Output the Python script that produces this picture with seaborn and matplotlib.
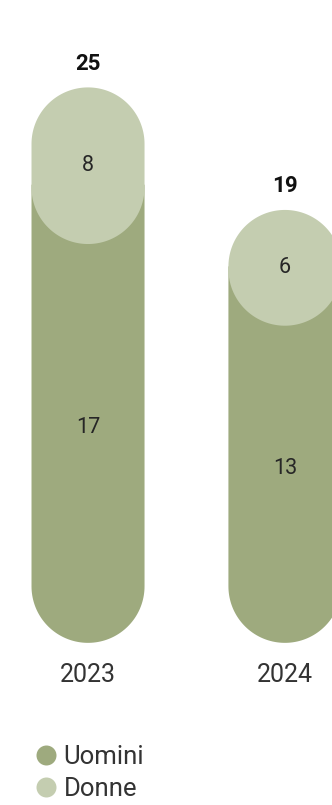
import numpy as np
import matplotlib
matplotlib.use("Agg")
import matplotlib.pyplot as plt
import seaborn as sns
import pandas as pd
from matplotlib.patches import Polygon
from matplotlib.lines import Line2D

# ---- data ----
years = ["2023", "2024"]
uomini = [17, 13]
donne = [8, 6]
series_names = ["Uomini", "Donne"]
series_colors = ["#9EAA7E", "#C4CDB0"]

totals = [u + d for u, d in zip(uomini, donne)]

sns.set_theme(style="white")
plt.rcParams['font.family'] = ['Roboto', 'DejaVu Sans']

W, H = 332, 805
fig = plt.figure(figsize=(W / 100, H / 100), dpi=100)
ax = fig.add_axes([0, 0, 1, 1])

BAR_W = 0.574
df = pd.DataFrame({"year": years, "Uomini": uomini, "Totale": totals})
sns.barplot(data=df, x="year", y="Totale", color=series_colors[1], ax=ax,
            width=BAR_W, saturation=1)
sns.barplot(data=df, x="year", y="Uomini", color=series_colors[0], ax=ax,
            width=BAR_W, saturation=1)

XLIM = (-0.447, 1.239)
YLIM = (-10.14, 29.28)
ax.set_xlim(*XLIM)
ax.set_ylim(*YLIM)
ax.set_axis_off()

# pixel -> data ratios for round caps
xu_per_px = (XLIM[1] - XLIM[0]) / W
yu_per_px = (YLIM[1] - YLIM[0]) / H
ASP = yu_per_px / xu_per_px

BOTTOM_EXT = 2.2   # round-bottom extension below zero (value units)
GAP = 0.33         # Donne pill starts slightly above the Uomini value


def pill(x0, w, yb, yt, round_top=True, round_bot=True, n=80):
    rx = w / 2
    ry = rx * ASP
    xc = x0 + rx
    t = np.linspace(0, np.pi, n)
    if round_top:
        top = np.column_stack([xc + rx * np.cos(t), (yt - ry) + ry * np.sin(t)])
    else:
        top = np.array([[xc + rx, yt], [xc - rx, yt]])
    if round_bot:
        bot = np.column_stack([xc - rx * np.cos(t), (yb + ry) - ry * np.sin(t)])
    else:
        bot = np.array([[xc - rx, yb], [xc + rx, yb]])
    return np.vstack([top, bot])


patches = list(ax.patches)
tot_patches = patches[:2]
uom_patches = patches[2:4]
for p in patches:
    p.set_visible(False)

TXT = "#262626"
for i, (pt, pu) in enumerate(zip(tot_patches, uom_patches)):
    x0, w = pu.get_x(), pu.get_width()
    u = pu.get_height()
    tval = pt.get_height()
    ry = (w / 2) * ASP
    # Uomini: rounded bottom, flat top hidden under Donne
    ax.add_patch(Polygon(pill(x0, w, -BOTTOM_EXT, u + GAP + ry * 1.05,
                              round_top=False), closed=True,
                         facecolor=series_colors[0], edgecolor="none", zorder=2))
    # Donne: full pill
    ax.add_patch(Polygon(pill(x0, w, u + GAP, tval), closed=True,
                         facecolor=series_colors[1], edgecolor="none", zorder=3))
    xc = x0 + w / 2
    # labels
    ax.text(xc, u / 2 - 0.15, f"{uomini[i]}", ha="center", va="center",
            fontsize=15.5, fontweight="normal", color=TXT, zorder=5)
    ax.text(xc, (u + GAP + tval) / 2, f"{donne[i]}", ha="center", va="center",
            fontsize=15.5, fontweight="normal", color=TXT, zorder=5)
    ax.annotate(f"{totals[i]}", (xc, tval), xytext=(0, 17),
                textcoords="offset points", ha="center", va="center",
                fontsize=16, fontweight="bold", color="#111111", zorder=5)
    ax.annotate(years[i], (xc, -BOTTOM_EXT), xytext=(0, -23.5),
                textcoords="offset points", ha="center", va="center",
                fontsize=18, fontweight="normal", color="#333333", zorder=5)

handles = [Line2D([], [], marker="o", linestyle="", markersize=14.4,
                  markerfacecolor=c, markeredgecolor="none") for c in series_colors]
fig.legend(handles, series_names, loc="upper left",
           bbox_to_anchor=(36.7 / W, 1 - 745 / H), frameon=False,
           handlelength=0.75, handletextpad=0.3,
           labelspacing=0.3, borderpad=0, borderaxespad=0,
           labelcolor="#333333", prop={"weight": "normal", "size": 18.5})

fig.savefig("out.png", dpi=100)
